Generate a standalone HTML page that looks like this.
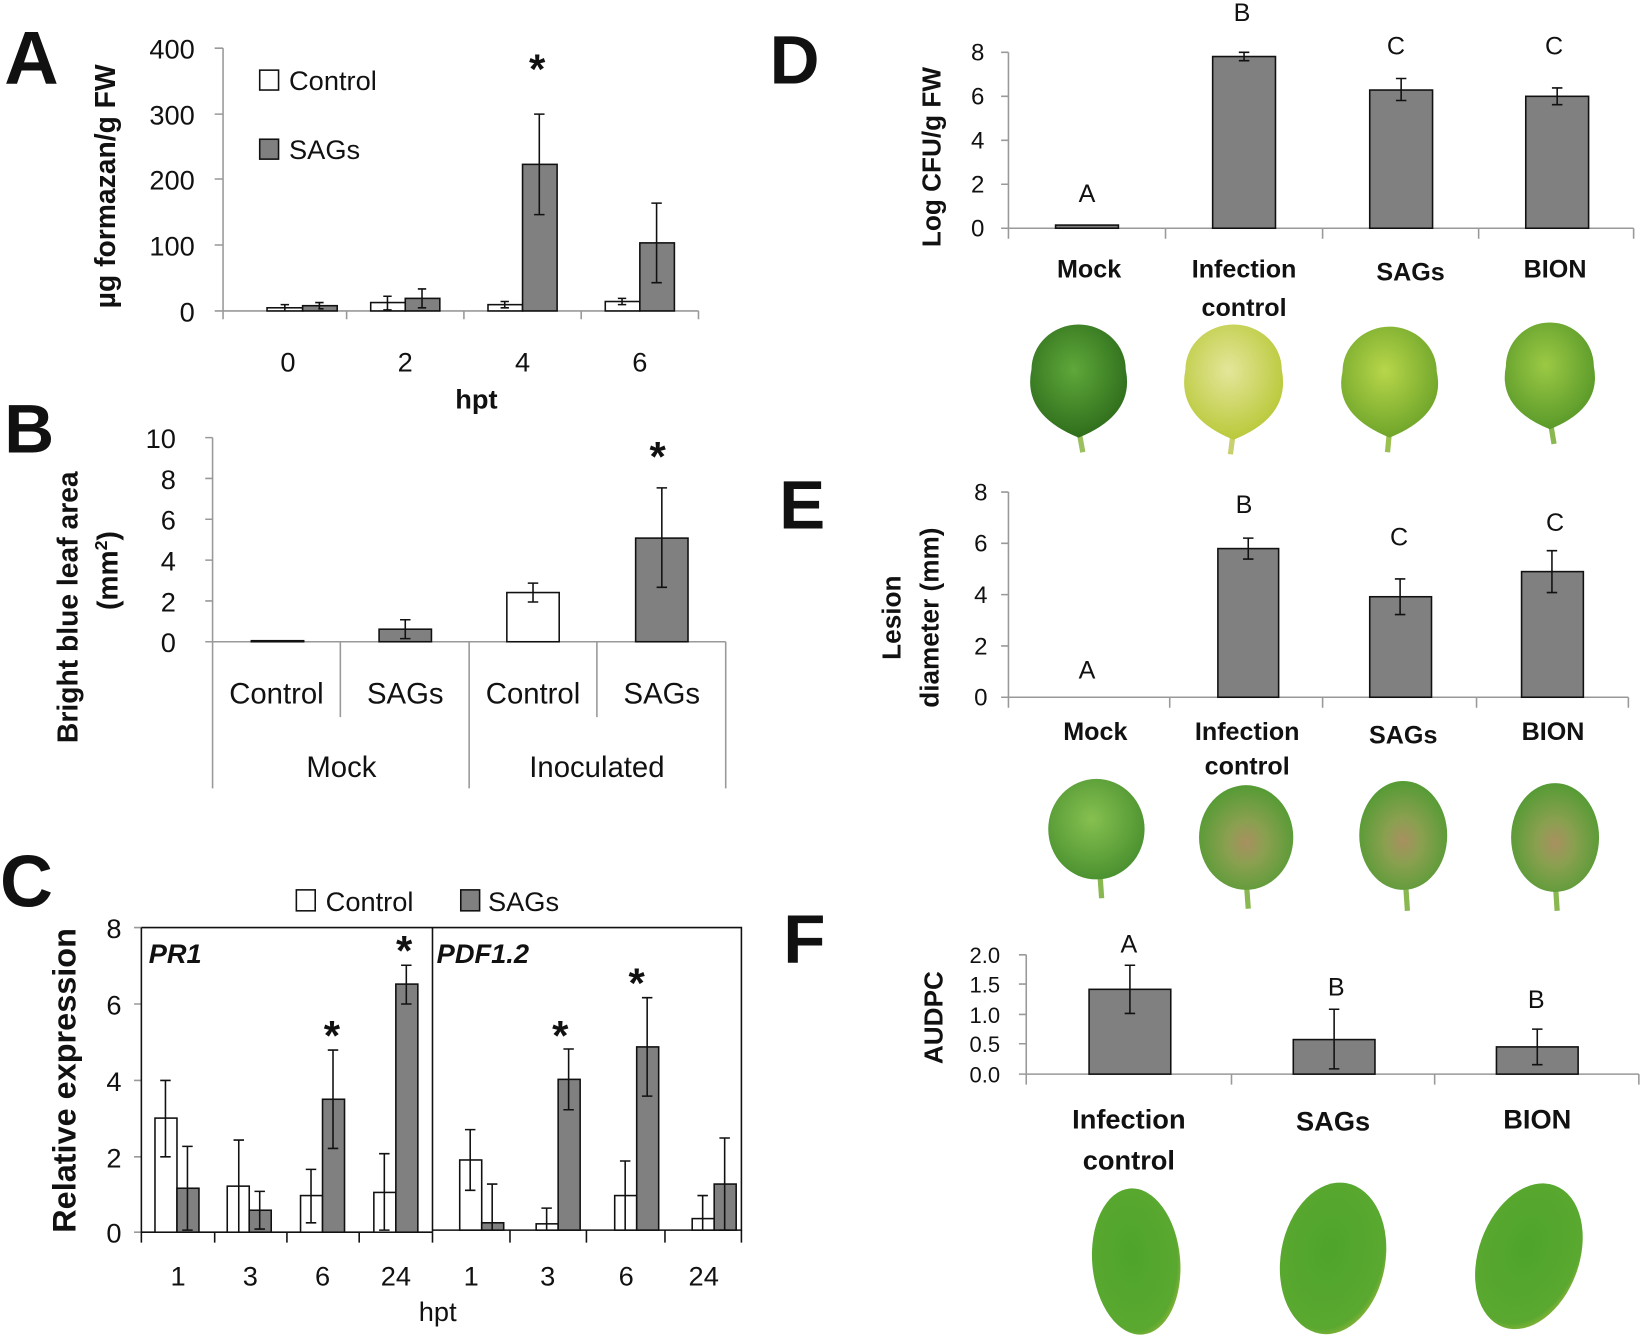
<!DOCTYPE html>
<html><head><meta charset="utf-8"><style>
html,body{margin:0;padding:0;background:#fff;}
svg{display:block;}
text{font-family:"Liberation Sans",sans-serif;fill:#111;}
.t{font-size:26px;}
.b{font-weight:bold;}
.ax{stroke:#999;stroke-width:1.5;fill:none;}
.w{fill:#fff;stroke:#111;stroke-width:1.5;}
.g{fill:#808080;stroke:#111;stroke-width:1.5;}
.e{stroke:#111;stroke-width:1.5;fill:none;}
</style></head><body>
<svg width="1642" height="1339" viewBox="0 0 1568 1279" preserveAspectRatio="none" xmlns="http://www.w3.org/2000/svg">
<defs>
<radialGradient id="lg1" cx="45%" cy="40%" r="60%"><stop offset="0" stop-color="#5fa83a"/><stop offset="1" stop-color="#2f6e1c"/></radialGradient>
<radialGradient id="lg2" cx="45%" cy="40%" r="60%"><stop offset="0" stop-color="#e4e69a"/><stop offset="1" stop-color="#b9c93a"/></radialGradient>
<radialGradient id="lg3" cx="45%" cy="40%" r="60%"><stop offset="0" stop-color="#b8d64a"/><stop offset="1" stop-color="#6fa52a"/></radialGradient>
<radialGradient id="lg4" cx="45%" cy="40%" r="60%"><stop offset="0" stop-color="#9cc944"/><stop offset="1" stop-color="#5a9a2a"/></radialGradient>
<radialGradient id="le1" cx="45%" cy="40%" r="60%"><stop offset="0" stop-color="#86c050"/><stop offset="1" stop-color="#4c9230"/></radialGradient>
<radialGradient id="le2" cx="50%" cy="55%" r="60%"><stop offset="0" stop-color="#a89060"/><stop offset="0.35" stop-color="#8aa050"/><stop offset="1" stop-color="#4d9a30"/></radialGradient>
<radialGradient id="lf" cx="45%" cy="45%" r="65%"><stop offset="0" stop-color="#4ea42c"/><stop offset="0.8" stop-color="#5aa830"/><stop offset="1" stop-color="#b8c040"/></radialGradient>
</defs>

<!-- Panel A -->
<text x="4" y="80" style="font-size:72px" class="b">A</text>
<g class="t" text-anchor="end">
<text x="186" y="56">400</text><text x="186" y="119">300</text><text x="186" y="181">200</text><text x="186" y="244">100</text><text x="186" y="307">0</text></g>
<path class="ax" d="M205 46H213M205 109H213M205 171H213M205 234H213M205 297H213M213 46V297H667M213 297V305M331 297V305M443 297V305M555 297V305M667 297V305"/>
<rect class="w" x="255" y="294" width="34" height="3"/><rect class="g" x="289" y="292" width="33" height="5"/>
<rect class="w" x="354" y="289" width="33" height="8"/><rect class="g" x="387" y="285" width="33" height="12"/>
<rect class="w" x="466" y="291" width="33" height="6"/><rect class="g" x="499" y="157" width="33" height="140"/>
<rect class="w" x="578" y="288" width="33" height="9"/><rect class="g" x="611" y="232" width="33" height="65"/>
<path class="e" d="M272 291V297M268 291H276M305 289V295M301 289H309M304 295H309M370 283V296M366 283H374M366 296H374M403 276V294M399 276H407M399 294H407M482 288V294M478 288H486M478 294H486M515 109V205M510 109H520M510 205H520M594 285V291M590 285H598M590 291H598M627 194V270M622 194H632M622 270H632"/>
<text x="513" y="80" text-anchor="middle" style="font-size:40px" class="b">*</text>
<rect class="w" x="248" y="67" width="18" height="19"/><text x="276" y="86" class="t">Control</text>
<rect class="g" x="248" y="133" width="18" height="19"/><text x="276" y="152" class="t">SAGs</text>
<g class="t" text-anchor="middle"><text x="275" y="355">0</text><text x="387" y="355">2</text><text x="499" y="355">4</text><text x="611" y="355">6</text></g>
<text x="455" y="390" text-anchor="middle" class="t b">hpt</text>
<text transform="translate(110,178) rotate(-90)" text-anchor="middle" style="font-size:27px" class="b">µg formazan/g FW</text>

<!-- Panel B -->
<text x="4" y="432" style="font-size:66px" class="b">B</text>
<g class="t" text-anchor="end">
<text x="168" y="428">10</text><text x="168" y="467">8</text><text x="168" y="506">6</text><text x="168" y="545">4</text><text x="168" y="584">2</text><text x="168" y="623">0</text></g>
<path class="ax" d="M196 418H203M196 457H203M196 496H203M196 535H203M196 574H203M196 613H203M203 418V753M203 613H693M325 613V685M448 613V753M570 613V685M693 613V753"/>
<rect class="w" x="240" y="612" width="50" height="1"/>
<rect class="g" x="362" y="601" width="50" height="12"/>
<rect class="w" x="484" y="566" width="50" height="47"/>
<rect class="g" x="607" y="514" width="50" height="99"/>
<path class="e" d="M387 592V610M382 592H392M382 610H392M509 557V575M504 557H514M504 575H514M632 466V561M627 466H637M627 561H637"/>
<text x="628" y="450" text-anchor="middle" style="font-size:40px" class="b">*</text>
<g style="font-size:28px" text-anchor="middle"><text x="264" y="672">Control</text><text x="387" y="672">SAGs</text><text x="509" y="672">Control</text><text x="632" y="672">SAGs</text>
<text x="326" y="742">Mock</text><text x="570" y="742">Inoculated</text></g>
<text transform="translate(74,580) rotate(-90)" text-anchor="middle" style="font-size:27px" class="b">Bright blue leaf area</text>
<text transform="translate(112,545) rotate(-90)" text-anchor="middle" style="font-size:27px" class="b">(mm<tspan dy="-10" style="font-size:17px">2</tspan><tspan dy="10">)</tspan></text>

<!-- Panel C -->
<text x="0" y="866" style="font-size:70px" class="b">C</text>
<rect class="w" x="283" y="850" width="18" height="20"/><text x="311" y="870" class="t">Control</text>
<rect class="g" x="440" y="850" width="18" height="20"/><text x="466" y="870" class="t">SAGs</text>
<g class="t" text-anchor="end"><text x="116" y="896">8</text><text x="116" y="969">6</text><text x="116" y="1042">4</text><text x="116" y="1115">2</text><text x="116" y="1187">0</text></g>
<path class="ax" d="M128 886H135M128 959H135M128 1032H135M128 1105H135M128 1177H135"/>
<path d="M135 886H413V1177M413 886H708V1175H413M135 1177H413" stroke="#111" stroke-width="1.5" fill="none"/>
<path class="e" d="M135 886V1187M135 1187V1177M205 1177V1187M274 1177V1187M343 1177V1187M413 1177V1187M487 1175V1187M560 1175V1187M635 1175V1187M708 1175V1187"/>
<rect class="w" x="148" y="1068" width="21" height="109"/><rect class="g" x="169" y="1135" width="21" height="42"/>
<rect class="w" x="217" y="1133" width="21" height="44"/><rect class="g" x="238" y="1156" width="21" height="21"/>
<rect class="w" x="287" y="1142" width="21" height="35"/><rect class="g" x="308" y="1050" width="21" height="127"/>
<rect class="w" x="357" y="1139" width="21" height="38"/><rect class="g" x="378" y="940" width="21" height="237"/>
<rect class="w" x="439" y="1108" width="21" height="67"/><rect class="g" x="460" y="1168" width="21" height="7"/>
<rect class="w" x="512" y="1169" width="21" height="6"/><rect class="g" x="533" y="1031" width="21" height="144"/>
<rect class="w" x="587" y="1142" width="21" height="33"/><rect class="g" x="608" y="1000" width="21" height="175"/>
<rect class="w" x="661" y="1164" width="21" height="11"/><rect class="g" x="682" y="1131" width="21" height="44"/>
<path class="e" d="M158 1032V1105M153 1032H163M153 1105H163M179 1095V1175M174 1095H184M174 1175H184M228 1089V1177M223 1089H233M248 1138V1174M243 1138H253M243 1174H253M297 1117V1168M292 1117H302M292 1168H302M318 1003V1097M313 1003H323M313 1097H323M367 1102V1175M362 1102H372M362 1175H372M388 922V959M383 922H393M383 959H393M449 1079V1137M444 1079H454M444 1137H454M470 1131V1175M465 1131H475M522 1154V1175M517 1154H527M543 1002V1060M538 1002H548M538 1060H548M597 1109V1175M592 1109H602M618 953V1047M613 953H623M613 1047H623M671 1142V1175M666 1142H676M692 1087V1175M687 1087H697M687 1175H697"/>
<g style="font-size:40px" class="b" text-anchor="middle"><text x="317" y="1003">*</text><text x="386" y="922">*</text><text x="535" y="1003">*</text><text x="608" y="953">*</text></g>
<text x="142" y="920" style="font-size:26px;font-style:italic" class="b">PR1</text>
<text x="417" y="920" style="font-size:26px;font-style:italic" class="b">PDF1.2</text>
<g class="t" text-anchor="middle"><text x="170" y="1228">1</text><text x="239" y="1228">3</text><text x="308" y="1228">6</text><text x="378" y="1228">24</text><text x="450" y="1228">1</text><text x="523" y="1228">3</text><text x="598" y="1228">6</text><text x="672" y="1228">24</text></g>
<text x="418" y="1262" text-anchor="middle" class="t">hpt</text>
<text transform="translate(72,1032) rotate(-90)" text-anchor="middle" style="font-size:31px" class="b">Relative expression</text>

<!-- Panel D -->
<text x="735" y="80" style="font-size:66px" class="b">D</text>
<g style="font-size:23px" text-anchor="end"><text x="940" y="58">8</text><text x="940" y="100">6</text><text x="940" y="142">4</text><text x="940" y="184">2</text><text x="940" y="226">0</text></g>
<path class="ax" d="M956 50H963M956 92H963M956 134H963M956 176H963M956 218H963M963 50V228M963 218H1560M1113 218V228M1263 218V228M1412 218V228M1560 218V228"/>
<rect class="g" x="1008" y="215" width="60" height="3"/>
<rect class="g" x="1158" y="54" width="60" height="164"/>
<rect class="g" x="1308" y="86" width="60" height="132"/>
<rect class="g" x="1457" y="92" width="60" height="126"/>
<path class="e" d="M1188 50V58M1183 50H1193M1183 58H1193M1338 75V96M1333 75H1343M1333 96H1343M1487 84V100M1482 84H1492M1482 100H1492"/>
<g style="font-size:24px" text-anchor="middle"><text x="1038" y="193">A</text><text x="1186" y="20">B</text><text x="1333" y="52">C</text><text x="1484" y="52">C</text></g>
<text transform="translate(898,150) rotate(-90)" text-anchor="middle" style="font-size:25px" class="b">Log CFU/g FW</text>
<g style="font-size:24px" class="b" text-anchor="middle"><text x="1040" y="265">Mock</text><text x="1188" y="265">Infection</text><text x="1188" y="302">control</text><text x="1347" y="268">SAGs</text><text x="1485" y="265">BION</text></g>
<path d="M1030 410L1034 432" stroke="#9bc060" stroke-width="5"/>
<path d="M1030 418 Q976 396 985 353 A45 43 0 0 1 1075 353 Q1084 396 1030 418Z" fill="url(#lg1)"/>
<path d="M1178 410L1175 434" stroke="#c8d070" stroke-width="5"/>
<path d="M1178 420 Q1123 398 1132 353 A46 43 0 0 1 1224 353 Q1233 398 1178 420Z" fill="url(#lg2)"/>
<path d="M1327 410L1325 432" stroke="#9bc050" stroke-width="5"/>
<path d="M1327 418 Q1273 396 1282 355 A45 43 0 0 1 1372 355 Q1381 396 1327 418Z" fill="url(#lg3)"/>
<path d="M1480 400L1484 424" stroke="#8ab850" stroke-width="5"/>
<path d="M1480 410 Q1430 390 1438 350 A42 42 0 0 1 1522 350 Q1530 390 1480 410Z" fill="url(#lg4)"/>

<!-- Panel E -->
<text x="744" y="505" style="font-size:66px" class="b">E</text>
<g style="font-size:23px" text-anchor="end"><text x="943" y="478">8</text><text x="943" y="527">6</text><text x="943" y="576">4</text><text x="943" y="625">2</text><text x="943" y="674">0</text></g>
<path class="ax" d="M956 470H963M956 519H963M956 568H963M956 617H963M956 666H963M963 470V676M963 666H1555M1117 666V676M1263 666V676M1410 666V676M1555 666V676"/>
<rect class="g" x="1163" y="524" width="58" height="142"/>
<rect class="g" x="1308" y="570" width="59" height="96"/>
<rect class="g" x="1453" y="546" width="59" height="120"/>
<path class="e" d="M1192 514V534M1187 514H1197M1187 534H1197M1337 553V587M1332 553H1342M1332 587H1342M1482 526V566M1477 526H1487M1477 566H1487"/>
<g style="font-size:24px" text-anchor="middle"><text x="1038" y="648">A</text><text x="1188" y="490">B</text><text x="1336" y="521">C</text><text x="1485" y="507">C</text></g>
<text transform="translate(860,590) rotate(-90)" text-anchor="middle" style="font-size:25px" class="b">Lesion</text>
<text transform="translate(896,590) rotate(-90)" text-anchor="middle" style="font-size:25px" class="b">diameter (mm)</text>
<g style="font-size:24px" class="b" text-anchor="middle"><text x="1046" y="707">Mock</text><text x="1191" y="707">Infection</text><text x="1191" y="740">control</text><text x="1340" y="710">SAGs</text><text x="1483" y="707">BION</text></g>
<path d="M1050 830L1052 858" stroke="#8ab850" stroke-width="5"/><ellipse cx="1047" cy="792" rx="46" ry="48" fill="url(#le1)"/>
<path d="M1190 840L1192 868" stroke="#8ab850" stroke-width="5"/><ellipse cx="1190" cy="800" rx="45" ry="50" fill="url(#le2)"/>
<path d="M1342 840L1344 870" stroke="#8ab850" stroke-width="5"/><ellipse cx="1340" cy="798" rx="42" ry="52" fill="url(#le2)"/>
<path d="M1485 840L1487 870" stroke="#8ab850" stroke-width="5"/><ellipse cx="1485" cy="800" rx="42" ry="52" fill="url(#le2)"/>

<!-- Panel F -->
<text x="748" y="920" style="font-size:66px" class="b">F</text>
<g style="font-size:21px" text-anchor="end"><text x="955" y="920">2.0</text><text x="955" y="948">1.5</text><text x="955" y="977">1.0</text><text x="955" y="1005">0.5</text><text x="955" y="1034">0.0</text></g>
<path class="ax" d="M973 912H980M973 940H980M973 969H980M973 997H980M973 1026H980M980 912V1036M980 1026H1565M1176 1026V1036M1370 1026V1036M1565 1026V1036"/>
<rect class="g" x="1040" y="945" width="78" height="81"/>
<rect class="g" x="1235" y="993" width="78" height="33"/>
<rect class="g" x="1429" y="1000" width="78" height="26"/>
<path class="e" d="M1079 922V968M1074 922H1084M1074 968H1084M1274 964V1021M1269 964H1279M1269 1021H1279M1468 983V1017M1463 983H1473M1463 1017H1473"/>
<g style="font-size:24px" text-anchor="middle"><text x="1078" y="910">A</text><text x="1276" y="951">B</text><text x="1467" y="963">B</text></g>
<text transform="translate(900,972) rotate(-90)" text-anchor="middle" style="font-size:25px" class="b">AUDPC</text>
<g style="font-size:26px" class="b" text-anchor="middle"><text x="1078" y="1078">Infection</text><text x="1078" y="1117">control</text><text x="1273" y="1080">SAGs</text><text x="1468" y="1078">BION</text></g>
<ellipse cx="1085" cy="1205" rx="42" ry="70" fill="url(#lf)" transform="rotate(-5 1085 1205)"/>
<ellipse cx="1273" cy="1202" rx="50" ry="73" fill="url(#lf)" transform="rotate(10 1273 1202)"/>
<ellipse cx="1460" cy="1200" rx="48" ry="72" fill="url(#lf)" transform="rotate(20 1460 1200)"/>
</svg>
</body></html>
